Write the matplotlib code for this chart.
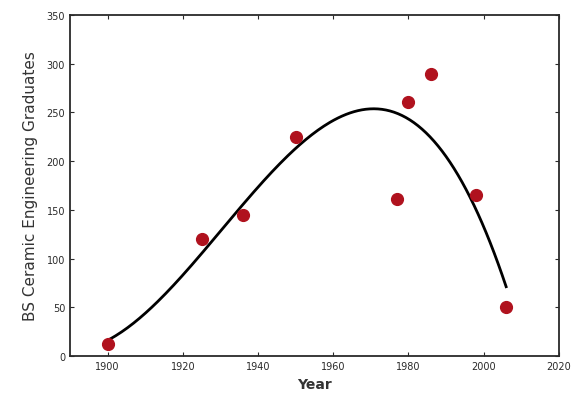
import numpy as np
import matplotlib.pyplot as plt

# graduates per year
years = [1900, 1925, 1936, 1950, 1977, 1980, 1986, 1998, 2006]
grads = [12, 120, 145, 225, 161, 261, 289, 165, 50]

# cubic trend line fitted to the points
coef = np.polyfit(years, grads, 3)
xfit = np.linspace(1900, 2006, 200)
yfit = np.polyval(coef, xfit)

fig = plt.figure(figsize=(5.71, 4.10), dpi=100)
ax = fig.add_axes([0.1226, 0.129, 0.856, 0.832])

ax.plot(xfit, yfit, color='black', lw=2)
ax.scatter(years, grads, s=72, color='#b0121e', zorder=3)

ax.set_xlim(1890, 2020)
ax.set_ylim(0, 350)
ax.set_xticks(range(1900, 2021, 20))
ax.set_yticks(range(0, 351, 50))
ax.tick_params(direction='in', top=True, right=True, labelsize=7, colors='#2a2a2a', length=3)
for s in ax.spines.values():
    s.set_linewidth(1.3)
    s.set_color('#2a2a2a')

ax.set_xlabel('Year', fontsize=10, fontweight='bold', color='#333333')
ax.set_ylabel('BS Ceramic Engineering Graduates', fontsize=11, color='#333333', labelpad=6)

fig.savefig('out.png', dpi=100)
